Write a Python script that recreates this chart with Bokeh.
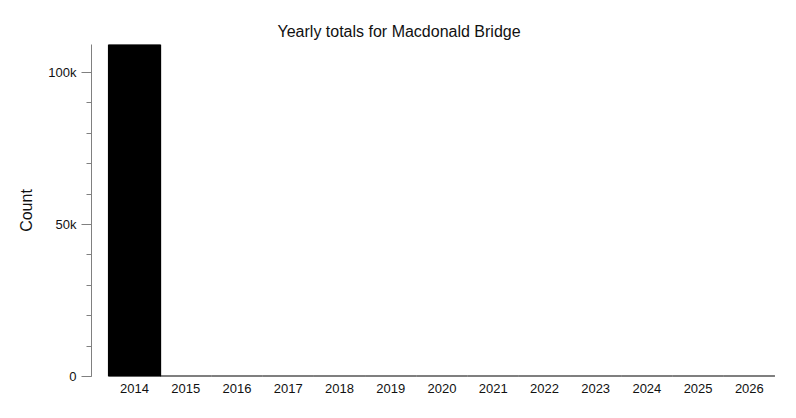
from bokeh.plotting import figure
from bokeh.models import Range1d, FixedTicker, SingleIntervalTicker, NumeralTickFormatter, ColumnDataSource
from bokeh.embed import file_html
from bokeh.resources import INLINE

years = [2014, 2015, 2016, 2017, 2018, 2019, 2020, 2021, 2022, 2023, 2024, 2025, 2026]
counts = [115000, 0, 0, 0, 0, 0, 0, 0, 0, 0, 0, 0, 0]

src = ColumnDataSource(dict(year=years, count=counts))

FONT = "Liberation Sans"

p = figure(width=790, height=410, output_backend="svg", toolbar_location=None,
           x_range=Range1d(years[0] - 0.84, years[-1] + 0.53),
           y_range=Range1d(0, 109200),
           min_border_left=91, min_border_right=14, min_border_top=44, min_border_bottom=34,
           title="Yearly totals for Macdonald Bridge")

p.vbar(x="year", top="count", width=1.0, source=src, fill_color="black",
       line_color="black", line_width=2)

p.title.align = "left"
p.title.offset = 186
p.title.text_font = FONT
p.title.text_font_size = "16px"
p.title.text_font_style = "normal"
p.title.text_color = "#111111"

p.xgrid.grid_line_color = None
p.ygrid.grid_line_color = None
p.outline_line_color = None

xa = p.xaxis[0]
xa.ticker = FixedTicker(ticks=years)
xa.axis_line_color = None
xa.major_tick_line_color = None
xa.minor_tick_line_color = None
xa.major_tick_out = 0
xa.major_tick_in = 0
xa.major_label_standoff = 7
xa.major_label_text_font = FONT
xa.major_label_text_font_size = "13px"
xa.major_label_text_color = "#111111"

ya = p.yaxis[0]
ya.ticker = SingleIntervalTicker(interval=50000, num_minor_ticks=5)
ya.formatter = NumeralTickFormatter(format="0a")
ya.axis_line_color = "#808080"
ya.major_tick_line_color = "#808080"
ya.minor_tick_line_color = "#808080"
ya.major_tick_out = 10
ya.major_tick_in = 0
ya.minor_tick_out = 5
ya.minor_tick_in = 0
ya.major_label_standoff = 5
ya.major_label_text_font = FONT
ya.major_label_text_font_size = "13px"
ya.major_label_text_color = "#111111"
ya.axis_label = "Count"
ya.axis_label_text_font = FONT
ya.axis_label_text_font_size = "16px"
ya.axis_label_text_font_style = "normal"
ya.axis_label_text_color = "#111111"
ya.axis_label_standoff = 10

open("out.html", "w").write(file_html(p, INLINE))
